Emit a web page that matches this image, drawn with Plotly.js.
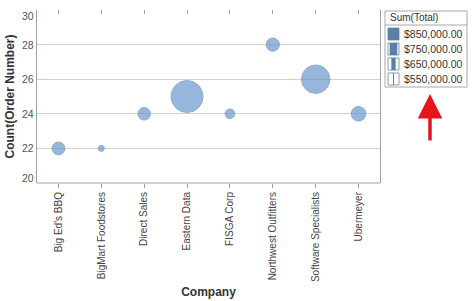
<!DOCTYPE html>
<html><head><meta charset="utf-8">
<script src="https://cdn.plot.ly/plotly-3.0.1.min.js"></script>
<style>body{margin:0;background:#fff}#c{width:475px;height:301px}</style>
</head><body><div id="c"></div>
<script>
const companies = ["Big Ed's BBQ","BigMart Foodstores","Direct Sales","Eastern Data","FISGA Corp","Northwest Outfitters","Software Specialists","Ubermeyer"];
const orderCounts = [22, 22, 24, 25, 24, 28, 26, 24];
const totals = [615000, 520000, 610000, 880000, 570000, 620000, 830000, 640000];
const legendValues = [850000, 750000, 650000, 550000];
const legendTitle = "Sum(Total)";
const yTickVals = [20, 22, 24, 26, 28, 30];

const vmin = Math.min(...totals), vmax = Math.max(...totals);
const sizes = totals.map(v => 6 + (v - vmin) / (vmax - vmin) * 26);

const L = 37, R = 380, T = 10, B = 183;
const px = x => (x - L) / (R - L);
const py = y => (B - y) / (B - T);
const fam = 'Liberation Sans, Arial';

const shapes = [
  {type:'line', xref:'paper', yref:'paper', x0:0, x1:1, y0:0, y1:0, line:{color:'#a0a0a0', width:1}},
  {type:'rect', xref:'paper', yref:'paper', x0:px(385), x1:px(467), y0:py(11), y1:py(87), line:{color:'#a8a8a8', width:1}, fillcolor:'#fff'},
  {type:'line', xref:'paper', yref:'paper', x0:px(385), x1:px(467), y0:py(25), y1:py(25), line:{color:'#a8a8a8', width:1}}
];
const annotations = [
  {xref:'paper', yref:'paper', x:px(388), y:py(18), xanchor:'left', yanchor:'middle', text:legendTitle, showarrow:false, font:{family:fam, size:10, color:'#333'}},
  {xref:'paper', yref:'paper', x:px(1), y:0.5, xanchor:'left', yanchor:'middle', textangle:-90, showarrow:false, borderpad:0, text:'Count(Order Number)',
    font:{family:fam, size:12, color:'#333', weight:'bold'}}
];
// y tick labels (inset at the range ends, as in the reference)
yTickVals.forEach((v, i) => {
  let yy = v;
  if (i === 0) yy = v + 0.3;
  if (i === yTickVals.length - 1) yy = v - 0.35;
  annotations.push({xref:'paper', yref:'y', x:px(35), y:yy, xanchor:'right', yanchor:'middle', showarrow:false, borderpad:0, text:String(v),
    font:{family:fam, size:10.5, color:'#555'}});
});
legendValues.forEach((v, i) => {
  const cy = 34 + i * 15;
  const frac = (v - legendValues[legendValues.length-1]) / (legendValues[0] - legendValues[legendValues.length-1]);
  const w = 1 + frac * 10;
  const cx = 393.5;
  shapes.push({type:'rect', xref:'paper', yref:'paper', x0:px(388), x1:px(399), y0:py(cy-6), y1:py(cy+6), line:{color:'#8a9bb0', width:1}, fillcolor:'#fff'});
  shapes.push({type:'rect', xref:'paper', yref:'paper', x0:px(cx - w/2), x1:px(cx + w/2), y0:py(cy-6), y1:py(cy+6), line:{width:0}, fillcolor:'#5a7fa8'});
  annotations.push({xref:'paper', yref:'paper', x:px(402), y:py(cy), xanchor:'left', yanchor:'middle', showarrow:false,
    text:'$' + v.toLocaleString('en-US', {minimumFractionDigits:2, maximumFractionDigits:2}),
    font:{family:fam, size:10.5, color:'#333'}});
});
annotations.push({xref:'paper', yref:'paper', x:px(430), y:py(94), ax:0, ay:48, axref:'pixel', ayref:'pixel', text:'', showarrow:true,
  arrowcolor:'#e8141b', arrowwidth:3.5, arrowhead:2, arrowsize:1.4});

const trace = {
  type:'scatter', mode:'markers', x:companies, y:orderCounts,
  marker:{size:sizes, sizemode:'diameter', color:'#6b99cd', line:{color:'#5c89bd', width:1}},
  hoverinfo:'x+y'
};
const topTicks = {type:'scatter', mode:'markers', x:companies, y:orderCounts, xaxis:'x2', yaxis:'y', marker:{opacity:0}, hoverinfo:'skip'};
const layout = {
  width:475, height:301, margin:{l:L, r:475-R, t:T, b:301-B},
  paper_bgcolor:'#fff', plot_bgcolor:'#fff', showlegend:false,
  font:{family:fam, color:'#333'},
  xaxis:{type:'category', range:[-0.5, 7.5], showgrid:false, showline:false, ticks:'outside', ticklen:4, tickcolor:'#a0a0a0',
    tickangle:-90, tickfont:{size:10, color:'#444'}, zeroline:false,
    title:{text:'Company', font:{size:12, color:'#333', family:fam, weight:'bold'}, standoff:6}},
  xaxis2:{type:'category', overlaying:'x', side:'top', range:[-0.5, 7.5], showgrid:false, showline:false, ticks:'inside', ticklen:4,
    tickcolor:'#a0a0a0', showticklabels:false, zeroline:false},
  yaxis:{range:[20, 30], tickvals:yTickVals, showticklabels:false, showgrid:true, gridcolor:'#d0d0d0', showline:true, linecolor:'#a0a0a0', mirror:true, ticks:'', zeroline:false},
  shapes:shapes, annotations:annotations
};
Plotly.newPlot('c', [topTicks, trace], layout, {displayModeBar:false, staticPlot:true});
</script></body></html>
